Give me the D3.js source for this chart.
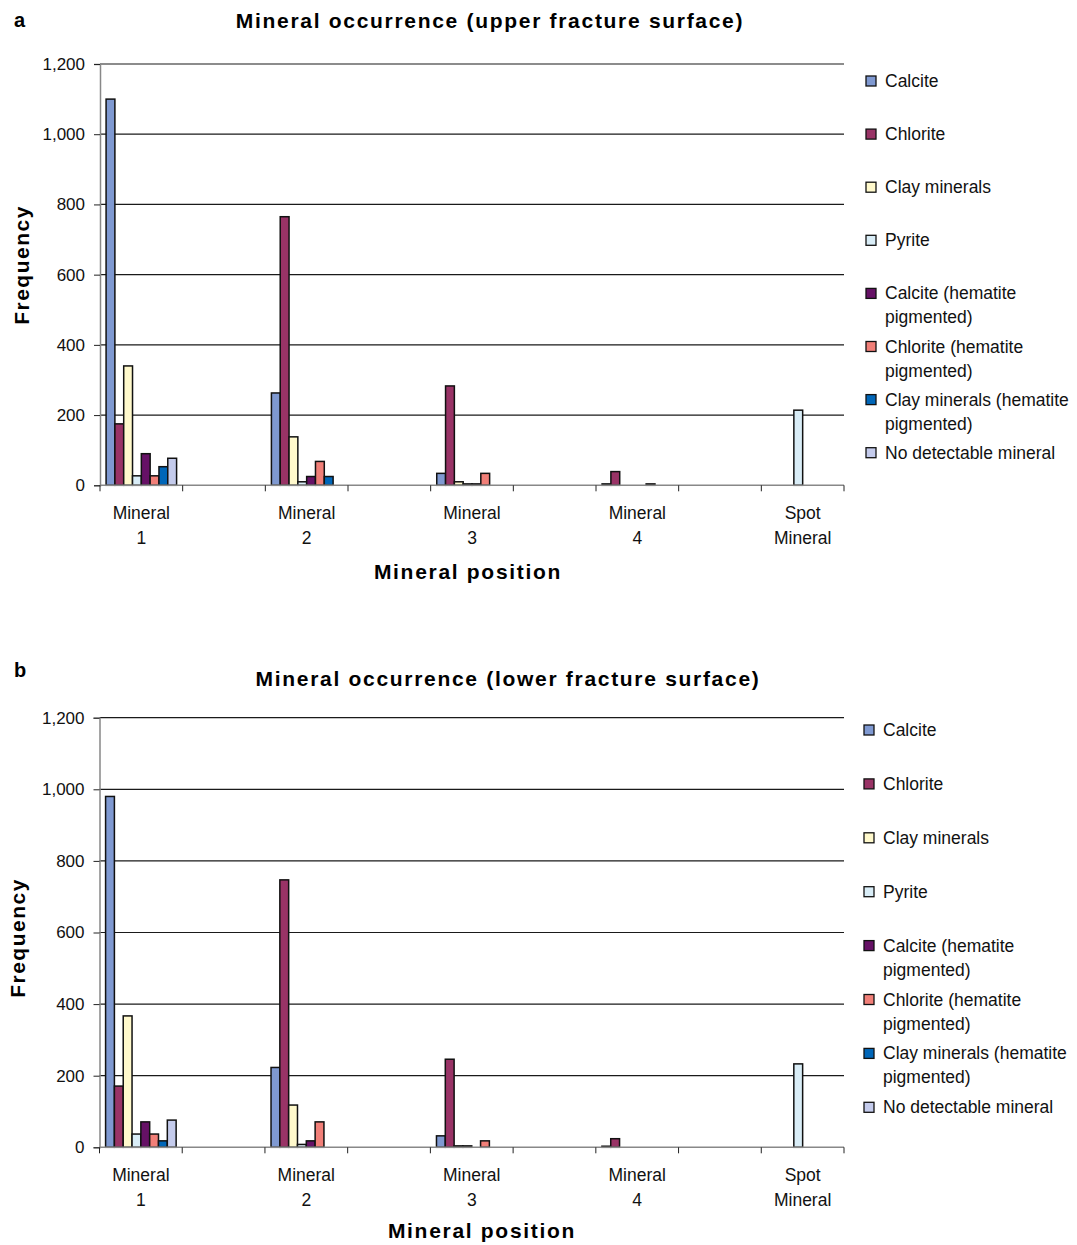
<!DOCTYPE html>
<html>
<head>
<meta charset="utf-8">
<script src="https://cdn.jsdelivr.net/npm/d3@7"></script>
<style>
  body { margin: 0; background: #fff; }
  svg { font-family: "Liberation Sans", Arial, sans-serif; }
</style>
</head>
<body>
<div id="dataviz"></div>
<script>
// categories on the x axis (Excel had empty slots between them)
var categories = ["Mineral 1", "Mineral 2", "Mineral 3", "Mineral 4", "Spot Mineral"];
var seriesNames = ["Calcite", "Chlorite", "Clay minerals", "Pyrite",
    "Calcite (hematite pigmented)", "Chlorite (hematite pigmented)",
    "Clay minerals (hematite pigmented)", "No detectable mineral"];
var legendLines = [["Calcite"], ["Chlorite"], ["Clay minerals"], ["Pyrite"],
    ["Calcite (hematite", "pigmented)"], ["Chlorite (hematite", "pigmented)"],
    ["Clay minerals (hematite", "pigmented)"], ["No detectable mineral"]];
var seriesColors = ["#7f99d1", "#993366", "#fff9cc", "#d9edf7", "#661166", "#f17f78", "#0066b8", "#c4cbec"];
var yTicks = [0, 200, 400, 600, 800, 1000, 1200];

// (a) upper fracture surface, one array per series across the categories
var upperCalcite = [1100, 263, 34, 4, 0];
var upperChlorite = [175, 765, 283, 39, 0];
var upperClay = [340, 138, 10, 0, 0];
var upperPyrite = [27, 10, 4, 0, 214];
var upperCalciteHem = [90, 25, 4, 0, 0];
var upperChloriteHem = [27, 68, 34, 4, 0];
var upperClayHem = [53, 25, 0, 0, 0];
var upperNone = [77, 0, 0, 0, 0];

// (b) lower fracture surface
var lowerCalcite = [980, 223, 32, 3, 0];
var lowerChlorite = [171, 747, 246, 24, 0];
var lowerClay = [367, 118, 4, 0, 0];
var lowerPyrite = [37, 8, 4, 0, 233];
var lowerCalciteHem = [71, 18, 0, 0, 0];
var lowerChloriteHem = [37, 71, 18, 0, 0];
var lowerClayHem = [18, 0, 0, 0, 0];
var lowerNone = [76, 0, 0, 0, 0];

var widthFull = 1077;
var heightFull = 1245;

var svg = d3.select("#dataviz").append("svg")
    .attr("width", widthFull)
    .attr("height", heightFull);

var panels = [
    {
        letter: "a", title: "Mineral occurrence (upper fracture surface)",
        series: [upperCalcite, upperChlorite, upperClay, upperPyrite, upperCalciteHem, upperChloriteHem, upperClayHem, upperNone],
        left: 100, right: 844, top: 64, bottom: 485.3,
        letterY: 27, titleX: 490, titleY: 28, xTitleX: 468, xTitleY: 579,
        yTitleX: 21, yTitleY: 265,
        legendBox: 866, legendText: 885, legendY: 81, legendStep: 53.1
    },
    {
        letter: "b", title: "Mineral occurrence (lower fracture surface)",
        series: [lowerCalcite, lowerChlorite, lowerClay, lowerPyrite, lowerCalciteHem, lowerChloriteHem, lowerClayHem, lowerNone],
        left: 99.5, right: 844, top: 717.7, bottom: 1147.3,
        letterY: 677, titleX: 508, titleY: 686, xTitleX: 482, xTitleY: 1238,
        yTitleX: 17, yTitleY: 938,
        legendBox: 864, legendText: 883, legendY: 730, legendStep: 53.9
    }
];

panels.forEach(drawPanel);

function drawPanel(p) {
    var g = svg.append("g");
    var nSlots = categories.length * 2 - 1;

    var x = d3.scaleBand().domain(d3.range(nSlots)).range([p.left, p.right]).padding(0);
    var xInner = d3.scaleBand().domain(seriesNames).range([0, x.bandwidth()])
        .paddingInner(0).paddingOuter(0.69);
    var y = d3.scaleLinear().domain([0, 1200]).range([p.bottom, p.top]);

    // panel letter + title
    g.append("text").attr("x", 14).attr("y", p.letterY)
        .style("font-size", "20px").style("font-weight", "bold").text(p.letter);
    g.append("text").attr("x", p.titleX).attr("y", p.titleY)
        .attr("text-anchor", "middle")
        .style("font-size", "21px").style("font-weight", "bold").style("letter-spacing", "1.7px")
        .text(p.title);

    // gridlines
    g.selectAll(".grid").data(yTicks.filter(d => d > 0)).enter().append("line")
        .attr("x1", p.left).attr("x2", p.right)
        .attr("y1", d => y(d)).attr("y2", d => y(d))
        .attr("stroke", "#1a1a1a").attr("stroke-width", 1.2);

    // y axis
    var yAxis = g.append("g")
        .attr("transform", "translate(" + p.left + ",0)")
        .call(d3.axisLeft(y).tickValues(yTicks).tickFormat(d3.format(",")).tickSize(6).tickPadding(9));
    yAxis.select(".domain").attr("stroke", "#888").attr("stroke-width", 1.5);
    yAxis.selectAll(".tick line").attr("stroke", "#222");
    yAxis.selectAll("text").style("font-size", "17px").attr("fill", "#111")
        .style("font-family", "'Liberation Sans', Arial, sans-serif");

    // bars
    p.series.forEach(function(vals, si) {
        g.selectAll(".bar" + si).data(vals.map((v, ci) => ({ v: v, ci: ci })).filter(d => d.v > 0))
            .enter().append("rect")
            .attr("x", d => x(d.ci * 2) + xInner(seriesNames[si]))
            .attr("width", xInner.bandwidth())
            .attr("y", d => y(d.v))
            .attr("height", d => y(0) - y(d.v))
            .attr("fill", seriesColors[si])
            .attr("stroke", "#111")
            .attr("stroke-width", 1.5);
    });

    // x axis line + slot ticks
    g.append("line").attr("x1", p.left).attr("x2", p.right)
        .attr("y1", p.bottom).attr("y2", p.bottom)
        .attr("stroke", "#888").attr("stroke-width", 1.5);
    g.selectAll(".xtick").data(d3.range(nSlots + 1)).enter().append("line")
        .attr("x1", d => d < nSlots ? x(d) : p.right)
        .attr("x2", d => d < nSlots ? x(d) : p.right)
        .attr("y1", p.bottom).attr("y2", p.bottom + 6)
        .attr("stroke", "#222");

    // category labels on two lines
    var lab = g.selectAll(".xlab").data(categories).enter().append("text")
        .attr("text-anchor", "middle")
        .style("font-size", "17.5px").attr("fill", "#111");
    lab.each(function(d, i) {
        var parts = d.split(" ");
        var cx = x(i * 2) + x.bandwidth() / 2;
        parts.forEach(function(t, k) {
            d3.select(this).append("tspan").attr("x", cx).attr("y", p.bottom + 34 + k * 25).text(t);
        }, this);
    });

    // axis titles
    g.append("text").attr("x", p.xTitleX).attr("y", p.xTitleY)
        .attr("text-anchor", "middle")
        .style("font-size", "21px").style("font-weight", "bold").style("letter-spacing", "1.7px")
        .text("Mineral position");
    g.append("text")
        .attr("transform", "translate(" + (p.yTitleX + 8) + "," + p.yTitleY + ") rotate(-90)")
        .attr("text-anchor", "middle")
        .style("font-size", "21px").style("font-weight", "bold").style("letter-spacing", "1.5px")
        .text("Frequency");

    // legend
    var leg = g.selectAll(".leg").data(seriesNames).enter().append("g")
        .attr("transform", (d, i) => "translate(0," + (p.legendY + i * p.legendStep) + ")");
    leg.append("rect")
        .attr("x", p.legendBox).attr("y", -5).attr("width", 10).attr("height", 10)
        .attr("fill", (d, i) => seriesColors[i]).attr("stroke", "#111").attr("stroke-width", 1.3);
    leg.append("text")
        .style("font-size", "17.5px").attr("fill", "#111")
        .each(function(d, i) {
            legendLines[i].forEach(function(t, k) {
                d3.select(this).append("tspan").attr("x", p.legendText).attr("y", 6 + k * 24).text(t);
            }, this);
        });
}
</script>
</body>
</html>
